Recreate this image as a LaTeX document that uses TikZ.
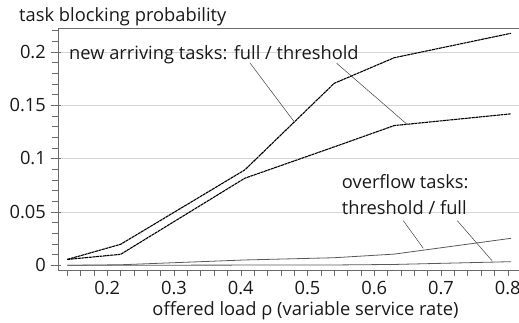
\documentclass[tikz,border=0pt]{standalone}
\usepackage{fontspec}
\setmainfont{Open Sans}
\tikzset{
  axisline/.style={draw=black!58, line width=0.8pt},
  gridline/.style={draw=black!16, line width=0.7pt},
  tickline/.style={draw=black!58, line width=0.6pt},
  newcurve/.style={draw=black, line width=1.1pt, dash pattern=on 3pt off 0.6pt},
  ovcurve/.style={draw=black!65, line width=0.8pt},
  leader/.style={draw=black!75, line width=0.5pt},
  lbl/.style={font=\fontsize{18.3}{20}\selectfont, inner sep=0pt, text=black!90},
}
\begin{document}
\begin{tikzpicture}[x=1pt,y=-1pt]
\useasboundingbox (0,0) rectangle (519,323);
% grid lines
\foreach \v in {0.05,0.1,0.15,0.2}{
  \draw[gridline] (58,{265.3-\v*1066.7}) -- (519,{265.3-\v*1066.7});
}
% frame / axes
\draw[axisline] (58,28) -- (519,28);
\draw[axisline] (58,28) -- (58,270) -- (519,270);
% y ticks
\foreach \i in {0,...,22}{
  \draw[tickline] (52,{265.3-\i*10.667}) -- (58,{265.3-\i*10.667});
}
\foreach \v in {0,0.05,0.1,0.15,0.2}{
  \draw[tickline] (51,{265.3-\v*1066.7}) -- (61,{265.3-\v*1066.7});
}
% x ticks
\foreach \i in {7,...,40}{
  \draw[tickline] ({-26.16+\i*0.02*667.3},270) -- ({-26.16+\i*0.02*667.3},275.5);
}
% tick labels
\node[lbl, anchor=base east] (y0) at (46,271.5) {0};
\node[lbl, anchor=base east] (y1) at (46,218.2) {0.05};
\node[lbl, anchor=base east] (y2) at (46,164.9) {0.1};
\node[lbl, anchor=base east] (y3) at (46,111.5) {0.15};
\node[lbl, anchor=base east] (y4) at (46,58.2) {0.2};
\node[lbl, anchor=base] (x2) at (107.3,294) {0.2};
\node[lbl, anchor=base] (x3) at (174.0,294) {0.3};
\node[lbl, anchor=base] (x4) at (240.8,294) {0.4};
\node[lbl, anchor=base] (x5) at (307.5,294) {0.5};
\node[lbl, anchor=base] (x6) at (374.2,294) {0.6};
\node[lbl, anchor=base] (x7) at (441.0,294) {0.7};
\node[lbl, anchor=base] (x8) at (507.7,294) {0.8};
% axis titles
\node[lbl, anchor=base west] (ytitle) at (19,21.5) {task blocking probability};
\node[lbl, anchor=base] (xtitle) at (305.5,315.5) {offered load ρ (variable service rate)};
% curves
\begin{scope}[shift={(-26.16,265.3)}, x=667.3pt, y=1066.7pt]
  \draw[ovcurve] (0.14,0) -- (0.22,0.0005) -- (0.406,0.005) -- (0.54,0.0071) -- (0.63,0.0105) -- (0.805,0.0253);
  \draw[ovcurve] (0.14,0) -- (0.54,0.0003) -- (0.63,0.0008) -- (0.805,0.0034);
  \draw[newcurve] (0.14,0.0055) -- (0.22,0.0197) -- (0.406,0.0894) -- (0.54,0.1706) -- (0.63,0.1946) -- (0.805,0.2175);
  \draw[newcurve] (0.14,0.0055) -- (0.22,0.0103) -- (0.406,0.0816) -- (0.54,0.111) -- (0.63,0.131) -- (0.805,0.142);
\end{scope}
% annotations
\node[lbl, anchor=base west] (newlbl) at (69,59.5) {new arriving tasks: full / threshold};
\node[lbl, anchor=base west] (ovlbl1) at (341.7,188.8) {overflow tasks:};
\node[lbl, anchor=base west] (ovlbl2) at (341.7,214.8) {threshold / full};
\coordinate (a1) at (250,63);
\coordinate (b1) at (294,121.5);
\coordinate (a2) at (336.7,63.3);
\coordinate (b2) at (406.7,124);
\coordinate (a3) at (403.3,220.7);
\coordinate (b3) at (423.3,248.3);
\coordinate (a4) at (457.3,220.7);
\coordinate (b4) at (492.3,261);
\draw[leader] (a1) -- (b1);
\draw[leader] (a2) -- (b2);
\draw[leader] (a3) -- (b3);
\draw[leader] (a4) -- (b4);
\end{tikzpicture}
\end{document}
